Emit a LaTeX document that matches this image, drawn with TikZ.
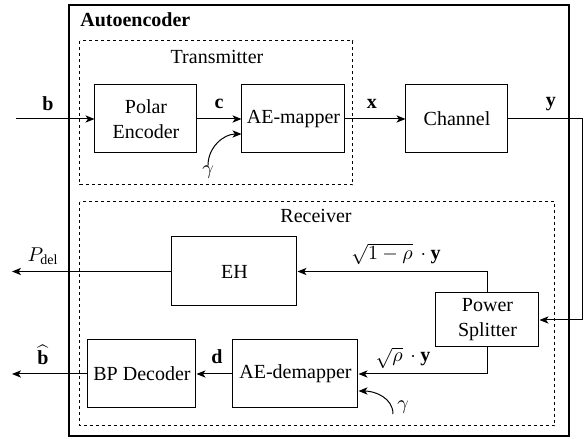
\documentclass[tikz,border=0pt]{standalone}
\usepackage{fontspec}
\setmainfont{Liberation Serif}
\usetikzlibrary{arrows.meta,calc}
\begin{document}
\begin{tikzpicture}[x=0.5pt,y=-0.5pt,
  blk/.style={draw,line width=0.5pt,align=center,inner sep=0pt,font=\fontsize{10}{12.5}\selectfont},
  arr/.style={-{Stealth[length=4.5pt,width=3.6pt,inset=1.2pt]},line width=0.5pt},
  ln/.style={line width=0.5pt},
  grp/.style={draw,line width=0.5pt,dash pattern=on 1.7pt off 1.3pt},
  lbl/.style={inner sep=0pt,font=\fontsize{10}{12}\selectfont}]
\useasboundingbox (0,0) rectangle (586,439);
% groups
\draw[line width=1.1pt] (69,5) rectangle (569,436);
\node[lbl,anchor=west,font=\fontsize{10}{12}\selectfont\bfseries] (aelbl) at (80,20) {Autoencoder};
\draw[grp] (80,41) rectangle (353,185);
\node[lbl] (txlbl) at (217,57) {Transmitter};
\draw[grp] (80,202) rectangle (555,426);
\node[lbl] (rxlbl) at (316,216) {Receiver};
% blocks
\node[blk,minimum width=51pt,minimum height=34pt] (pe) at (146,119) {Polar\\Encoder};
\node[blk,minimum width=51.5pt,minimum height=34pt] (map) at (293.5,119) {AE-mapper};
\node[blk,minimum width=51pt,minimum height=34pt] (ch) at (457,119) {Channel};
\node[blk,minimum width=62.5pt,minimum height=34.5pt] (eh) at (234.5,271.5) {EH};
\node[blk,minimum width=51.5pt,minimum height=27pt] (ps) at (487.5,320) {Power\\Splitter};
\node[blk,minimum width=62.5pt,minimum height=34pt] (dem) at (295.5,374) {AE-demapper};
\node[blk,minimum width=54pt,minimum height=34pt] (bp) at (142,374) {BP Decoder};
% free ends
\coordinate (bin) at (16,119);
\coordinate (yc) at (583,119);
\coordinate (pout) at (12,271.5);
\coordinate (bout) at (12,374);
\coordinate (g2s) at (393,414);
% labels
\node[lbl] (lb) at (48,104) {$\mathbf{b}$};
\node[lbl] (lc) at (219,104) {$\mathbf{c}$};
\node[lbl] (lx) at (372,104) {$\mathbf{x}$};
\node[lbl] (ly) at (551,104) {$\mathbf{y}$};
\node[lbl] (g1) at (208,172) {$\gamma$};
\node[lbl] (g2) at (403,407) {$\gamma$};
\node[lbl] (l1r) at (396,254) {$\sqrt{1-\rho}\,\cdot\mathbf{y}$};
\node[lbl] (lr) at (403,358) {$\sqrt{\rho}\,\cdot\mathbf{y}$};
\node[lbl] (ld) at (217,357) {$\mathbf{d}$};
\node[lbl] (lbh) at (43,355) {$\widehat{\mathbf{b}}$};
\node[lbl] (lp) at (43,256) {$P_{\mathrm{del}}$};
% connectors
\draw[arr] (bin) -- (pe.west);
\draw[arr] (pe.east) -- (map.west);
\draw[arr] (g1.north) to[out=90,in=180] ([yshift=-7.5pt]map.west);
\draw[arr] (map.east) -- (ch.west);
\draw[arr] (ch.east) -- (yc) |- (ps.east);
\draw[arr] (ps.north) |- (eh.east);
\draw[arr] (ps.south) |- (dem.east);
\draw[arr] (g2s) to[out=90,in=0] ([yshift=-8.5pt]dem.east);
\draw[arr] (dem.west) -- (bp.east);
\draw[arr] (bp.west) -- (bout);
\draw[arr] (eh.west) -- (pout);
\end{tikzpicture}
\end{document}
